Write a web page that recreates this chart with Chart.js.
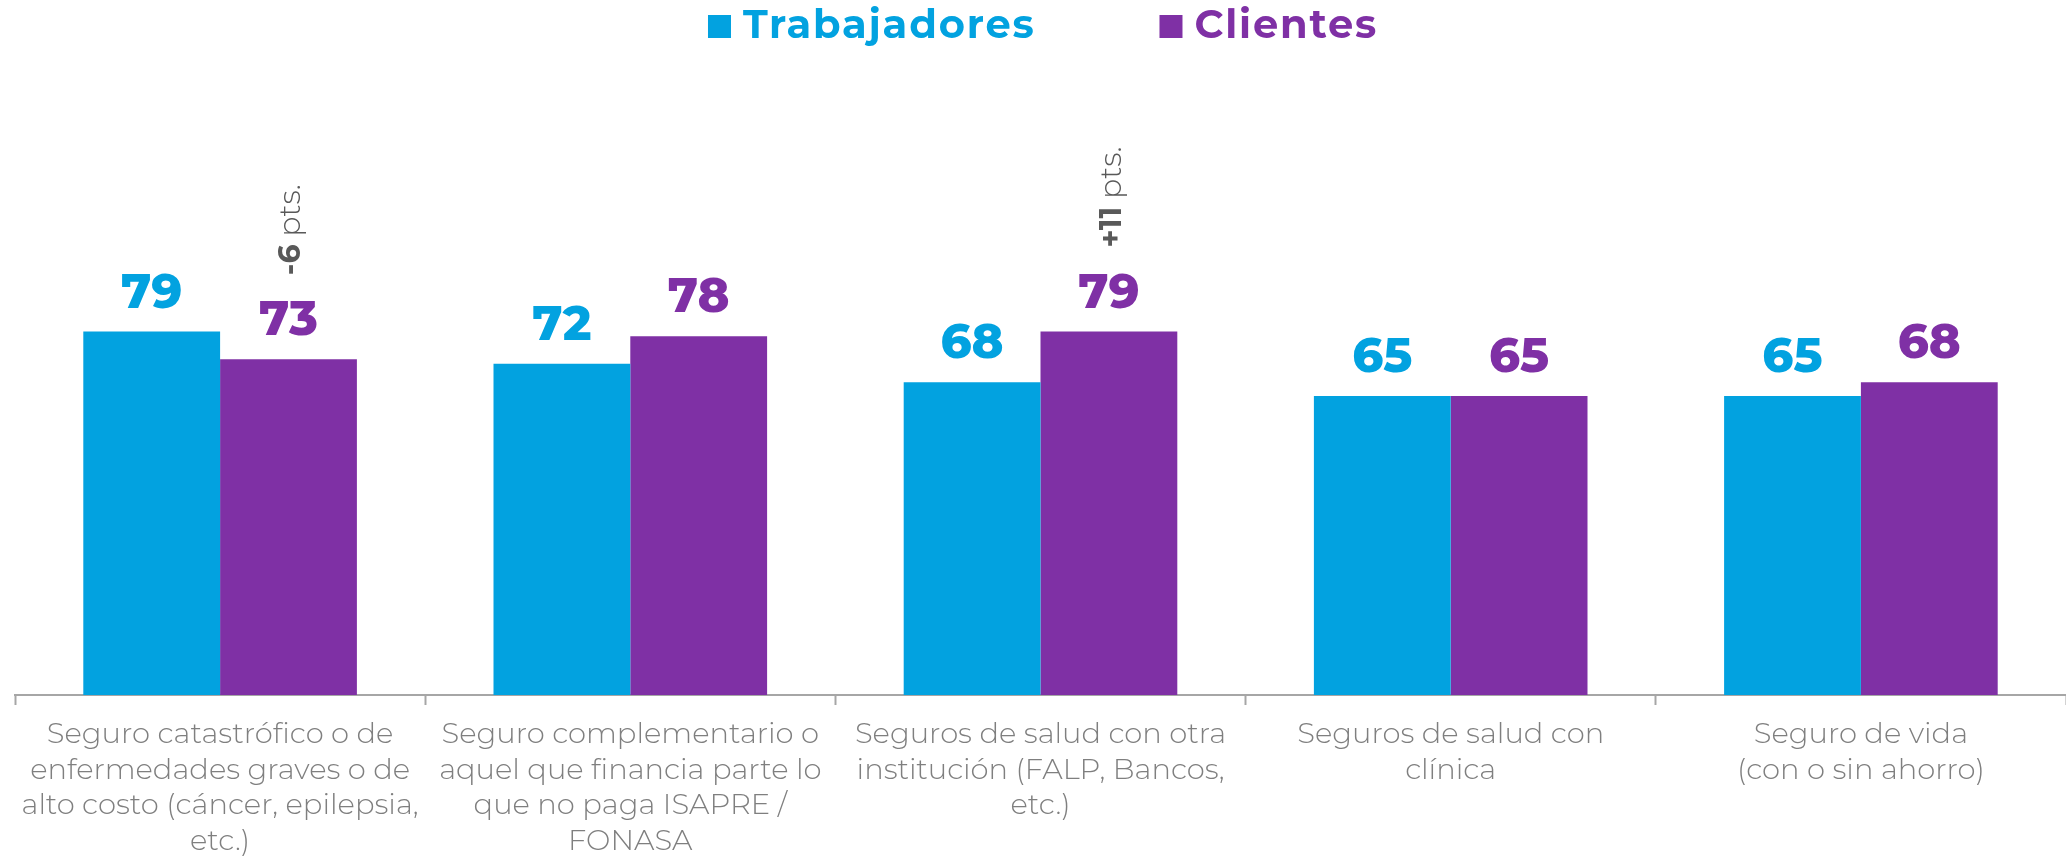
<!DOCTYPE html>
<html>
<head>
<meta charset="utf-8">
<script src="https://cdn.jsdelivr.net/npm/chart.js@4"></script>
<style>
  body { margin: 0; background: #fff; }
  #wrap { width: 2066px; height: 856px; }
</style>
</head>
<body>
<div id="wrap"><canvas id="myChart" width="2066" height="856"></canvas></div>
<script>
var categories = [
  ['Seguro catastrófico o de', 'enfermedades graves o de', 'alto costo (cáncer, epilepsia,', 'etc.)'],
  ['Seguro complementario o', 'aquel que financia parte lo', 'que no paga ISAPRE /', 'FONASA'],
  ['Seguros de salud con otra', 'institución (FALP, Bancos,', 'etc.)'],
  ['Seguros de salud con', 'clínica'],
  ['Seguro de vida', '(con o sin ahorro)']
];
var seriesNames = ['Trabajadores', 'Clientes'];
var trabajadores = [79, 72, 68, 65, 65];
var clientes = [73, 78, 79, 65, 68];
var diffLabels = ['-6', '', '+11', '', ''];
var diffSuffix = ' pts.';

var FONT = "Montserrat, 'Open Sans', sans-serif";
var blue = '#02a2e0';
var purple = '#7f30a5';

// value on top of each bar, in the bar's colour
var valueLabels = {
  id: 'valueLabels',
  afterDatasetsDraw: function(chart) {
    var ctx = chart.ctx;
    ctx.save();
    ctx.font = '800 48px ' + FONT;
    ctx.textAlign = 'center';
    ctx.textBaseline = 'alphabetic';
    chart.data.datasets.forEach(function(ds, i) {
      var meta = chart.getDatasetMeta(i);
      ctx.fillStyle = ds.backgroundColor;
      meta.data.forEach(function(bar, j) {
        ctx.fillText(ds.data[j], bar.x, bar.y - 24);
      });
    });
    ctx.restore();
  }
};

// rotated "+11 pts." notes above the Clientes bars
var diffNotes = {
  id: 'diffNotes',
  afterDatasetsDraw: function(chart) {
    var ctx = chart.ctx;
    var meta = chart.getDatasetMeta(1);
    ctx.save();
    ctx.fillStyle = '#595959';
    ctx.textBaseline = 'middle';
    ctx.textAlign = 'left';
    diffLabels.forEach(function(txt, j) {
      if (!txt) return;
      var bar = meta.data[j];
      ctx.save();
      ctx.translate(bar.x + 3, bar.y - 84);
      ctx.rotate(-Math.PI / 2);
      ctx.font = 'bold 30px ' + FONT;
      ctx.fillText(txt, 0, 0);
      var w = ctx.measureText(txt).width;
      ctx.font = '300 30px ' + FONT;
      ctx.fillText(diffSuffix, w, 0);
      ctx.restore();
    });
    ctx.restore();
  }
};

// legend at the top: square + bold coloured name
var topLegend = {
  id: 'topLegend',
  afterDraw: function(chart) {
    var ctx = chart.ctx;
    var box = 23, gapText = 12, gapItem = 124;
    ctx.save();
    ctx.font = 'bold 40px ' + FONT;
    ctx.letterSpacing = '1.8px';
    ctx.textBaseline = 'alphabetic';
    var sets = chart.data.datasets;
    var total = 0;
    sets.forEach(function(ds, i) {
      total += box + gapText + ctx.measureText(ds.label).width;
      if (i > 0) total += gapItem;
    });
    var x = 1043 - total / 2;
    sets.forEach(function(ds) {
      ctx.fillStyle = ds.backgroundColor;
      ctx.fillRect(x, 15, box, box);
      x += box + gapText;
      ctx.fillText(ds.label, x, 38);
      x += ctx.measureText(ds.label).width + gapItem;
    });
    ctx.restore();
  }
};

var ctx = document.getElementById('myChart').getContext('2d');
var myChart = new Chart(ctx, {
  type: 'bar',
  data: {
    labels: categories,
    datasets: [
      { label: seriesNames[0], data: trabajadores, backgroundColor: blue },
      { label: seriesNames[1], data: clientes, backgroundColor: purple }
    ]
  },
  options: {
    responsive: false,
    devicePixelRatio: 1,
    animation: false,
    layout: { padding: { top: 235, left: 15, right: -4, bottom: 0 } },
    datasets: {
      bar: { categoryPercentage: 0.667, barPercentage: 1 }
    },
    plugins: {
      legend: { display: false },
      tooltip: { enabled: false }
    },
    scales: {
      x: {
        afterFit: function(scale) { scale.height = 161; },
        border: { display: true, color: '#a6a6a6', width: 2 },
        grid: {
          offset: true,
          drawOnChartArea: false,
          drawTicks: true,
          tickLength: 10,
          tickWidth: 2,
          tickColor: '#a6a6a6'
        },
        ticks: {
          color: '#7f7f7f',
          padding: 12,
          maxRotation: 0,
          autoSkip: false,
          font: { family: FONT, size: 29, weight: '300', lineHeight: 1.225 }
        }
      },
      y: {
        display: false,
        min: 0,
        max: 100
      }
    }
  },
  plugins: [valueLabels, diffNotes, topLegend]
});
</script>
</body>
</html>
